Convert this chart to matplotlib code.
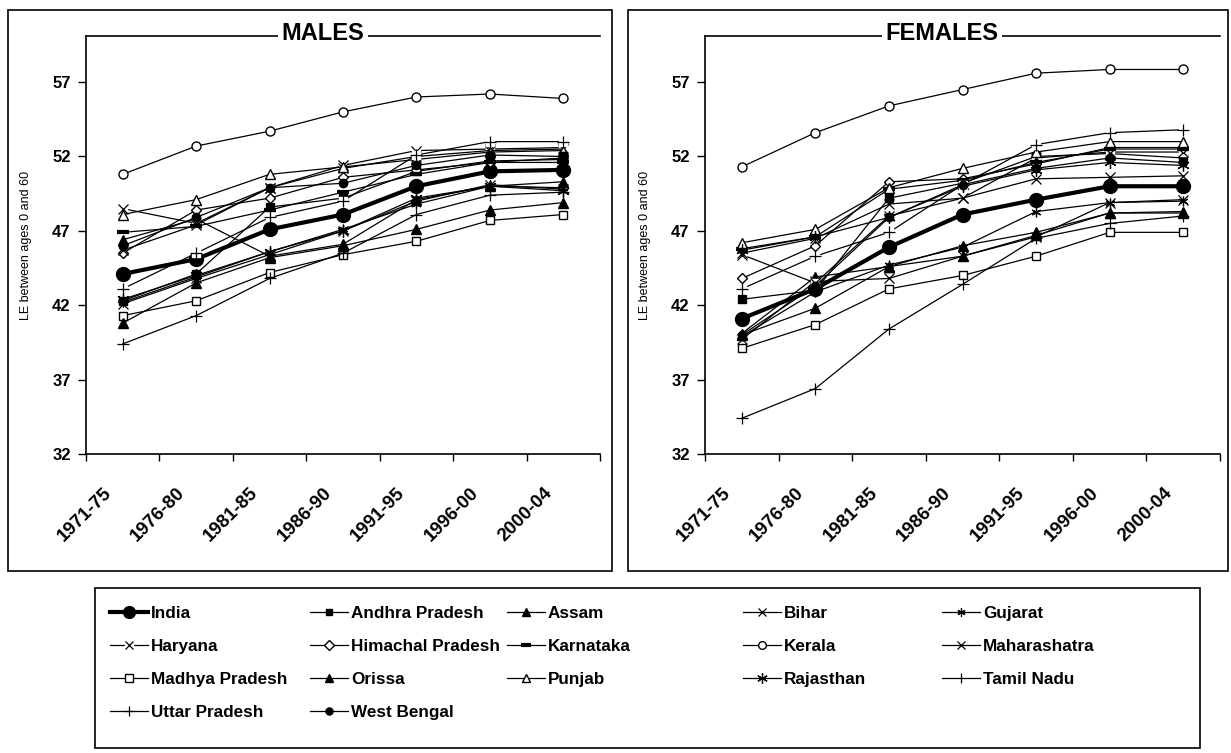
import matplotlib.pyplot as plt
from matplotlib.patches import Rectangle
from matplotlib.transforms import ScaledTranslation
import numpy as np

plt.rcParams['font.family'] = ['Liberation Sans', 'DejaVu Sans']

periods = ['1971-75', '1976-80', '1981-85', '1986-90', '1991-95', '1996-00', '2000-04']
states = ['India', 'Andhra Pradesh', 'Assam', 'Bihar', 'Gujarat', 'Haryana',
          'Himachal Pradesh', 'Karnataka', 'Kerala', 'Maharashatra', 'Madhya Pradesh',
          'Orissa', 'Punjab', 'Rajasthan', 'Tamil Nadu', 'Uttar Pradesh', 'West Bengal']

# life expectancy between ages 0 and 60 - males
india_m = [44.1, 45.1, 47.1, 48.1, 50.0, 51.0, 51.1]
andhra_m = [42.3, 44.1, 48.6, 49.2, 51.0, 51.7, 51.8]
assam_m = [46.4, 47.8, 45.3, 46.1, 49.1, 50.0, 50.3]
bihar_m = [42.1, 43.8, 45.4, 47.0, 49.0, 50.1, 49.8]
gujarat_m = [42.2, 43.9, 45.6, 47.1, 48.8, 50.0, 49.9]
haryana_m = [48.5, 47.5, 49.9, 51.4, 52.4, 52.5, 52.6]
himachal_m = [45.5, 48.4, 49.2, 50.6, 51.1, 51.6, 51.9]
karnataka_m = [46.9, 47.3, 48.4, 49.6, 50.8, 51.6, 51.6]
kerala_m = [50.8, 52.7, 53.7, 55.0, 56.0, 56.2, 55.9]
maharashtra_m = [45.7, 47.4, 49.9, 51.2, 52.0, 52.4, 52.5]
mp_m = [41.3, 42.3, 44.2, 45.4, 46.3, 47.7, 48.1]
orissa_m = [40.8, 43.5, 45.2, 46.0, 47.1, 48.4, 48.9]
punjab_m = [48.1, 49.1, 50.8, 51.3, 51.8, 52.3, 52.4]
rajasthan_m = [42.4, 44.0, 45.6, 47.0, 49.2, 50.0, 49.7]
tamilnadu_m = [43.1, 45.5, 47.9, 49.0, 52.1, 53.0, 53.0]
up_m = [39.4, 41.3, 43.8, 45.5, 48.1, 49.4, 49.6]
wb_m = [46.0, 47.9, 49.9, 50.2, 51.4, 52.1, 52.0]

# life expectancy between ages 0 and 60 - females
india_f = [41.1, 43.1, 45.9, 48.1, 49.1, 50.0, 50.0]
andhra_f = [42.4, 43.0, 49.2, 50.2, 52.0, 52.2, 51.9]
assam_f = [40.1, 43.9, 44.6, 46.0, 46.9, 48.2, 48.3]
bihar_f = [39.7, 43.6, 43.8, 45.3, 46.6, 48.9, 49.1]
gujarat_f = [39.9, 42.9, 44.7, 45.9, 48.3, 48.9, 49.0]
haryana_f = [45.4, 43.5, 48.0, 49.2, 51.9, 52.3, 52.3]
himachal_f = [43.8, 46.0, 50.3, 50.5, 51.5, 52.6, 52.6]
karnataka_f = [45.8, 46.6, 49.8, 50.4, 51.6, 52.5, 52.5]
kerala_f = [51.3, 53.6, 55.4, 56.5, 57.6, 57.85, 57.85]
maharashtra_f = [45.5, 46.5, 48.8, 49.2, 50.5, 50.6, 50.7]
mp_f = [39.1, 40.7, 43.1, 44.0, 45.3, 46.9, 46.9]
orissa_f = [40.0, 41.8, 44.6, 45.3, 46.7, 48.2, 48.2]
punjab_f = [46.2, 47.1, 49.9, 51.2, 52.3, 53.0, 53.0]
rajasthan_f = [45.7, 46.6, 47.9, 50.0, 51.1, 51.6, 51.4]
tamilnadu_f = [43.1, 45.3, 46.9, 50.1, 52.8, 53.6, 53.8]
up_f = [34.4, 36.4, 40.4, 43.4, 46.5, 47.5, 48.0]
wb_f = [40.0, 43.3, 47.9, 50.1, 51.2, 51.9, 51.6]

male = dict(zip(states, [india_m, andhra_m, assam_m, bihar_m, gujarat_m, haryana_m,
                         himachal_m, karnataka_m, kerala_m, maharashtra_m, mp_m,
                         orissa_m, punjab_m, rajasthan_m, tamilnadu_m, up_m, wb_m]))
female = dict(zip(states, [india_f, andhra_f, assam_f, bihar_f, gujarat_f, haryana_f,
                           himachal_f, karnataka_f, kerala_f, maharashtra_f, mp_f,
                           orissa_f, punjab_f, rajasthan_f, tamilnadu_f, up_f, wb_f]))

star = (6, 2, 0)
styles = {
    'India': dict(marker='o', ms=10, mfc='black', lw=3),
    'Andhra Pradesh': dict(marker='s', ms=5.5, mfc='black'),
    'Assam': dict(marker='^', ms=6.5, mfc='black'),
    'Bihar': dict(marker='x', ms=6.5, mew=0.9),
    'Gujarat': dict(marker=star, ms=7, mew=0.9),
    'Haryana': dict(marker='x', ms=7.5, mew=0.9),
    'Himachal Pradesh': dict(marker='D', ms=5.5, mfc='white'),
    'Karnataka': dict(marker='_', ms=8, mew=3),
    'Kerala': dict(marker='o', ms=6.5, mfc='white'),
    'Maharashatra': dict(marker='x', ms=6.5, mew=0.9),
    'Madhya Pradesh': dict(marker='s', ms=6, mfc='white'),
    'Orissa': dict(marker='^', ms=6.5, mfc='black'),
    'Punjab': dict(marker='^', ms=7, mfc='white'),
    'Rajasthan': dict(marker=star, ms=9, mew=0.9),
    'Tamil Nadu': dict(marker='+', ms=8, mew=0.9),
    'Uttar Pradesh': dict(marker='+', ms=8, mew=0.9),
    'West Bengal': dict(marker='o', ms=6, mfc='black'),
}
# these markers sit on a white square, so the line breaks around them
boxed = {'Haryana', 'Tamil Nadu'}

W, H = 1231, 753
fig = plt.figure(figsize=(W / 100, H / 100), dpi=100)


def frac(x0, y0, x1, y1):
    return [x0 / W, 1 - y1 / H, (x1 - x0) / W, (y1 - y0) / H]


panels = [('MALES', male, (86, 36, 600, 454), 323, (8, 10, 612, 571)),
          ('FEMALES', female, (705, 36, 1220, 454), 942, (628, 10, 1228, 571))]
x = np.arange(len(periods))
handles = {}

for title, data, box, tx, frame in panels:
    fig.add_artist(Rectangle(frac(*frame)[:2], *frac(*frame)[2:], transform=fig.transFigure,
                             fill=False, ec='black', lw=1.2))
    ax = fig.add_axes(frac(*box))
    for s in states:
        st = dict(styles[s])
        lw = st.pop('lw', 0.9)
        if s in boxed:
            ln, = ax.plot(x, data[s], color='black', lw=lw)
            bg, = ax.plot(x, data[s], ls='none', marker='s', ms=6, mfc='white', mec='white')
            mk, = ax.plot(x, data[s], ls='none', color='black', **st)
            handles[s] = (ln, bg, mk)
        else:
            h, = ax.plot(x, data[s], color='black', mec='black', lw=lw, **st)
            handles[s] = h

    ax.set_xlim(-0.5, 6.5)
    ax.set_ylim(32, 60.1)
    ax.set_yticks([32, 37, 42, 47, 52, 57])
    ax.set_xticks(x)
    ax.set_xticklabels(periods, rotation=45, ha='right')
    ax.set_xticks(np.arange(-0.5, 7), minor=True)
    ax.tick_params(axis='x', which='major', length=0, pad=22, labelsize=13.5)
    ax.tick_params(axis='x', which='minor', length=5, width=1, direction='out')
    ax.tick_params(axis='y', length=6, width=1, direction='out', pad=5, labelsize=12)
    for lab in ax.get_xticklabels() + ax.get_yticklabels():
        lab.set_fontweight('bold')
    off = ScaledTranslation(-0.08, 0, fig.dpi_scale_trans)
    for lab in ax.get_xticklabels():
        lab.set_transform(lab.get_transform() + off)
    ax.spines['right'].set_visible(False)
    for sp in ['left', 'bottom', 'top']:
        ax.spines[sp].set_linewidth(1.2)

    fig.text(tx / W, 1 - 40 / H, title, ha='center', va='baseline', fontsize=17,
             fontweight='bold', bbox=dict(fc='white', ec='none', pad=2.5))
    fig.text((box[0] - 60) / W, 1 - 245 / H, 'LE between ages 0 and 60', rotation=90,
             ha='center', va='center', fontsize=9)

# legend box underneath both panels
fig.add_artist(Rectangle(frac(95, 588, 1200, 748)[:2], *frac(95, 588, 1200, 748)[2:],
                         transform=fig.transFigure, fill=False, ec='black', lw=1.2))
columns = [['India', 'Haryana', 'Madhya Pradesh', 'Uttar Pradesh'],
           ['Andhra Pradesh', 'Himachal Pradesh', 'Orissa', 'West Bengal'],
           ['Assam', 'Karnataka', 'Punjab'],
           ['Bihar', 'Kerala', 'Rajasthan'],
           ['Gujarat', 'Maharashatra', 'Tamil Nadu']]
col_x = [110, 310, 507, 743, 942]
for names, cx in zip(columns, col_x):
    leg = fig.legend([handles[n] for n in names], names, loc='upper left',
                     bbox_to_anchor=(cx / W, 1 - 606 / H), frameon=False, borderpad=0,
                     borderaxespad=0, handlelength=2.2, handletextpad=0.2,
                     labelspacing=1.05, markerscale=0.85,
                     prop=dict(weight='bold', size=12.3))

fig.savefig('out.png', dpi=100)
